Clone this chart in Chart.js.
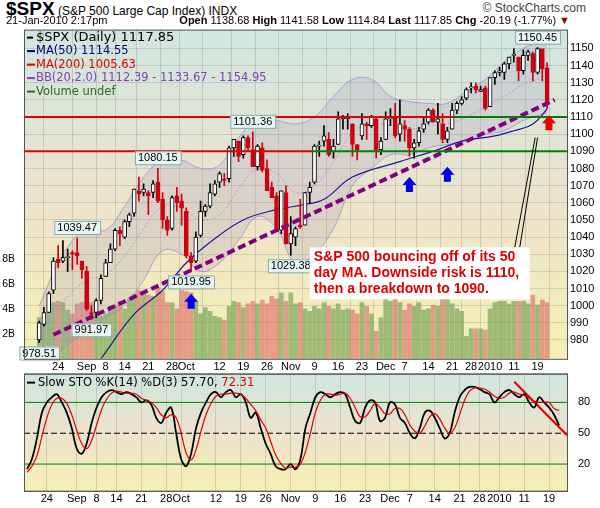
<!DOCTYPE html>
<html><head><meta charset="utf-8">
<script src="https://cdn.jsdelivr.net/npm/chart.js@4"></script>
<style>
body{margin:0;width:600px;height:508px;background:#fff;font-family:Arial,"Liberation Sans",sans-serif;position:relative;overflow:hidden}
#h1{position:absolute;left:6px;top:-2px;font-size:12px;white-space:nowrap;z-index:2}
#h1 b{font-size:19px}
#h2{position:absolute;left:6px;top:14px;font-size:11px;white-space:nowrap;z-index:2}
#h3{position:absolute;right:30px;top:14px;font-size:11px;white-space:nowrap;z-index:2}
#sc{position:absolute;right:14px;top:1px;font-size:12px;color:#444;z-index:2}
.c{position:absolute;left:0}
</style></head><body>
<div class="c" style="top:20px;width:600px;height:356px"><canvas id="m"></canvas></div>
<div class="c" style="top:364px;width:600px;height:144px"><canvas id="s"></canvas></div>
<div id="h1"><b>$SPX</b> (S&amp;P 500 Large Cap Index) INDX</div>
<div id="sc">© StockCharts.com</div>
<div id="h2">21-Jan-2010 2:17pm</div>
<div id="h3"><b>Open</b> 1138.68 <b>High</b> 1141.58 <b>Low</b> 1114.84 <b>Last</b> 1117.85 <b>Chg</b> -20.19 (-1.77%) <span style="color:#900">▼</span></div>
<script>
const xTickIdx=[4,10,14,18,23,28,31,38,43,48,53,58,63,68,73,77,82,87,91,95,100,105];
const xTickText=["24","Sep","8","14","21","28","Oct","12","19","26","Nov","9","16","23","Dec","7","14","21","28","2010","11","19"];
const opens=[980,989,996,1009,1027,1026,1028,1031,1031,1026,
1020,996,996,1003,1017,1025,1033,1044,1040,1049,1054,1067,1066,1066,1066,1072,1062,1050,1045,1064,1061,
1055,1029,1026,1041,1055,1058,1065,1072,1074,1074,1092,1096,1088,1098,1091,1081,1092,1080,1069,1064,1044,1066,
1036,1040,1047,1047,1066,1072,1093,1096,1097,1090,1094,1109,1109,1106,1094,1099,1106,1105,1109,1091,
1097,1109,1110,1100,1105,1103,1092,1095,1103,1107,1114,1107,1106,1097,1103,1114,1118,1121,1127,1128,1125,1127,
1116,1133,1136,1136,1141,1146,1145,1137,1146,1147,1136,1150,1138.68];
const highs=[991,999,1008,1028,1035,1038,1033,1032,1039.47,1026,
1023,1000,1004,1018,1027,1036,1045,1046,1050,1054,1068,1075,1071,1067,1073,1080.15,1066,1052,1064,1069,1065,
1057,1031,1043,1061,1059,1071,1073,1078,1077,1093,1097,1096,1099,1099,1101.36,1094,1095,1085,1072,1066,1067,1070,
1052,1046,1062,1066,1072,1094,1096,1105,1101,1097,1113,1111,1112,1106,1094,1112,1107,1111,1110,1098,
1113,1115,1118,1120,1108,1104,1097,1104,1110,1115,1115,1118,1112,1104,1118,1119,1122,1127,1130,1130,1128,1128,
1133,1137,1139,1142,1145,1150,1145,1149,1149,1148,1150.45,1138.5,1141.58];
const lows=[978.51,988,996,1007,1022,1025,1020,1021,1024,1016,
997,991.97,993,1001,1017,1025,1032,1035,1039,1046,1052,1061,1064,1053,1063,1060,1045,1041,1044,1055,1047,
1028,1019.95,1025,1040,1052,1057,1064,1069,1070,1072,1087,1084,1086,1090,1081,1079,1078,1075,1063,1059,1042,1036,
1029.38,1035,1045,1047,1060,1071,1087,1093,1087,1086,1094,1103,1103,1087,1085,1097,1097,1104,1086,1088,
1097,1105,1098,1096,1096,1087,1086,1093,1101,1106,1107,1100,1095,1095,1103,1112,1117,1120,1124,1124,1125,1114,
1116,1129,1134,1132,1138,1142,1131,1135,1143,1131,1135,1131,1114.84];
const closes=[990,996,1007,1026,1025,1028,1028,1030,1029,1021,
998,995,1003,1016,1025,1033,1044,1042,1049,1053,1068,1065,1068,1064,1071,1061,1050,1044,1063,1060,1057,
1029,1025,1040,1055,1058,1066,1071,1077,1073,1092,1097,1087,1098,1092,1081,1093,1079,1067,1063,1043,1067,1036,
1042,1045,1046,1066,1069,1093,1093,1099,1088,1093,1109,1110,1110,1094,1091,1106,1105,1110,1091,1096,
1109,1109,1099,1106,1103,1092,1095,1102,1106,1114,1107,1109,1097,1102,1114,1118,1120,1126,1127,1126,1126,1115,
1133,1136,1137,1141,1145,1146,1137,1146,1148,1136,1150,1138,1117.85];
const volumes=[3.3,3.0,3.8,4.5,4.6,4.5,3.9,3.6,4.4,4.5,
5.1,4.5,3.7,3.4,3.6,4.2,4.3,4.6,4.0,4.8,5.2,5.5,5.2,5.1,5.0,5.7,5.4,4.5,4.5,4.0,5.5,
5.4,5.3,4.6,3.6,4.1,3.8,3.4,3.3,3.1,4.2,4.6,4.5,4.1,4.4,4.6,4.4,4.7,4.4,5.0,4.8,5.3,4.6,
5.3,4.4,4.5,4.0,3.8,4.2,4.0,4.5,4.2,4.0,4.4,3.9,4.0,3.9,3.6,4.5,4.2,3.6,2.2,3.3,
4.9,4.6,4.9,4.5,3.9,4.4,4.2,4.5,3.9,4.0,4.3,4.2,4.8,5.9,4.4,4.0,3.8,1.8,2.4,2.4,2.4,2.3,
4.0,4.5,4.6,4.6,4.4,4.6,4.6,4.6,4.4,5.1,4.3,4.7,4.5];
const ma50=[[13,969],[20,995],[26,1009],[31,1025],[36,1037],[43,1050],[50,1056],[56,1059],[60,1062],[66,1075],[76,1084],[84,1091],[89,1096],[96,1099],[100,1102],[104,1106],[107,1114.55]];
const bbUpper=[[0,1000],[5,1030],[10,1045],[14,1044],[18,1058],[22,1075],[26,1085],[30,1085],[34,1080],[38,1082],[42,1098],[46,1108],[50,1108],[54,1106],[58,1110],[62,1122],[66,1132],[70,1132],[74,1122],[78,1119],[82,1118],[86,1118],[90,1125],[94,1132],[98,1142],[102,1150],[107,1154.95]];
const bbMid=[[0,982],[5,1002],[10,1015],[14,1018],[18,1029],[22,1045],[26,1058],[30,1057],[34,1050],[38,1053],[42,1068],[46,1080],[50,1077],[54,1066],[58,1070],[62,1084],[66,1101],[70,1106],[74,1105],[78,1103],[82,1105],[86,1106],[90,1110],[94,1116],[98,1122],[102,1129],[107,1133.67]];
const bbLower=[[0,965],[5,975],[10,985],[14,993],[18,1000],[22,1015],[26,1032],[30,1030],[34,1020],[38,1025],[42,1038],[46,1052],[50,1045],[54,1025],[58,1030],[62,1045],[66,1070],[70,1080],[74,1088],[78,1088],[82,1092],[86,1094],[90,1096],[94,1100],[98,1102],[102,1108],[107,1112.39]];
const trendLine=[[3,983],[108.6,1120]];
const stochK=[15,25,45,70,80,85,88,80,70,55,35,30,40,60,75,85,90,92,90,88,90,88,85,80,82,78,65,60,70,75,50,25,18,30,55,70,80,88,90,85,90,92,85,88,80,65,70,55,40,30,18,15,15,20,15,25,55,70,85,90,88,85,88,90,88,75,62,60,75,82,80,62,65,80,78,65,60,50,45,55,70,72,65,55,45,50,70,85,92,95,95,93,90,88,80,85,90,92,88,85,88,80,75,85,80,75,68,57.7];
const stochD=[12,18,28,47,65,78,84,84,79,68,53,40,35,43,58,73,83,89,91,90,89,89,88,84,82,80,75,68,65,68,65,50,31,24,34,52,68,79,86,88,88,89,89,88,84,78,72,63,55,42,29,21,16,17,17,20,32,50,70,82,88,88,87,88,89,84,75,66,66,72,79,75,69,69,74,74,68,58,52,50,57,66,69,64,55,50,55,68,82,91,94,94,93,90,86,84,85,89,90,88,87,84,81,80,80,80,74,72.3];
const stochTrend=[[98,100],[108.6,48]];
const priceLabels=[[0,978.51,'below'],[8,1039.47,'above'],[11,991.97,'below'],[25,1080.15,'above'],[32,1019.95,'below'],[45,1101.36,'above'],[53,1029.38,'below'],[105,1150.45,'above']];
const upArrows=[[32,1007,'#0000ee'],[78,1075,'#0000ee'],[86,1081,'#0000ee'],[107.4,1111,'#ee0000']];

const N=closes.length;
const idx=[...Array(N).keys()];
const up=idx.map(i=>closes[i]>=opens[i]);
const pts=a=>a.map(p=>({x:p[0],y:p[1]}));
const xCommon={type:'linear',min:-0.6,max:108.6,
  afterBuildTicks:s=>{s.ticks=xTickIdx.map(v=>({value:v}));},
  ticks:{callback:(v)=>xTickText[xTickIdx.indexOf(v)],font:{size:11,family:'Arial'},color:'#000',maxRotation:0,autoSkip:false,padding:2},
  grid:{color:'rgba(150,150,150,0.35)',drawTicks:false},border:{display:false}};

const bgPlugin={id:'bg',beforeDraw(c){const a=c.chartArea,ctx=c.ctx;const g=ctx.createLinearGradient(0,a.top,0,a.bottom);
 g.addColorStop(0,'#cfe6df');g.addColorStop(0.5,'#ece3cc');g.addColorStop(1,'#f6f0b4');
 ctx.save();ctx.fillStyle=g;ctx.fillRect(a.left,a.top,a.width,a.height);ctx.restore();},
 afterDraw(c){const a=c.chartArea,ctx=c.ctx;ctx.save();ctx.strokeStyle='#555';ctx.lineWidth=1;ctx.strokeRect(a.left+.5,a.top+.5,a.width,a.height);ctx.restore();}};

const annPlugin={id:'ann',afterDatasetsDraw(c){const ctx=c.ctx,xs=c.scales.x,ys=c.scales.y;ctx.save();
 const hl=(v,redTo)=>{const y=ys.getPixelForValue(v);ctx.lineWidth=2;ctx.strokeStyle='#e00000';ctx.beginPath();ctx.moveTo(c.chartArea.left,y);ctx.lineTo(xs.getPixelForValue(redTo),y);ctx.stroke();
   ctx.strokeStyle='#008000';ctx.beginPath();ctx.moveTo(xs.getPixelForValue(redTo),y);ctx.lineTo(c.chartArea.right,y);ctx.stroke();};
 hl(1110,87.5);hl(1090,57.5);
 upArrows.forEach(([i,v,col])=>{const x=xs.getPixelForValue(i),y=ys.getPixelForValue(v);ctx.fillStyle=col;ctx.beginPath();
   ctx.moveTo(x,y);ctx.lineTo(x+7,y+8);ctx.lineTo(x+3.5,y+8);ctx.lineTo(x+3.5,y+15);ctx.lineTo(x-3.5,y+15);ctx.lineTo(x-3.5,y+8);ctx.lineTo(x-7,y+8);ctx.closePath();ctx.fill();});
 ctx.font='11px Arial';ctx.textAlign='center';ctx.textBaseline='middle';
 priceLabels.forEach(([i,v,pos])=>{let x=xs.getPixelForValue(i),y=ys.getPixelForValue(v);const t=v.toFixed(2);const w=ctx.measureText(t).width+6;
   let by=pos==='above'?y-17:y+4;let bx=Math.min(Math.max(x-w/2,c.chartArea.left-20),c.chartArea.right-w);
   ctx.fillStyle='#e6f6f4';ctx.strokeStyle='#8aa';ctx.lineWidth=1;ctx.fillRect(bx,by,w,13);ctx.strokeRect(bx+.5,by+.5,w,13);
   ctx.fillStyle='#000';ctx.fillText(t,bx+w/2,by+7);});
 const bx=xs.getPixelForValue(57),by=ys.getPixelForValue(1034);
 ctx.strokeStyle='#000';ctx.lineWidth=1;ctx.beginPath();ctx.moveTo(bx+205,by);ctx.lineTo(xs.getPixelForValue(104.5),ys.getPixelForValue(1098));ctx.moveTo(bx+210,by);ctx.lineTo(xs.getPixelForValue(105),ys.getPixelForValue(1098));ctx.stroke();
 ctx.fillStyle='#fff';ctx.fillRect(bx,by,220,52);
 ctx.fillStyle='#e00000';ctx.font='bold 14px Arial';ctx.textAlign='left';ctx.textBaseline='top';
 ['S&P 500 bouncing off of its 50','day MA. Downside risk is 1110,','then a breakdown to 1090.'].forEach((l,k)=>ctx.fillText(l,bx+4,by+3+k*16));
 const a=c.chartArea;ctx.textBaseline='middle';
 const leg=[['$SPX (Daily) 1117.85','#000'],['MA(50) 1114.55','#000080'],['MA(200) 1005.63','#e00000'],['BB(20,2.0) 1112.39 - 1133.67 - 1154.95','#8040c0'],['Volume undef','#207020']];
 leg.forEach(([t,col],k)=>{const y=a.top+8+k*13.5;ctx.fillStyle=col;ctx.font=(k==0?'13px':'11.5px')+' "DejaVu Sans"';ctx.fillRect(a.left+3,y-1,k==0?6:8,2);ctx.fillText(t,a.left+12,y);});
 ctx.restore();}};

new Chart(document.getElementById('m'),{
 data:{datasets:[
  {type:'bar',yAxisID:'yv',order:20,data:idx.map(i=>({x:i,y:volumes[i]})),backgroundColor:idx.map(i=>up[i]?'rgba(110,160,80,0.65)':'rgba(220,100,100,0.6)'),barThickness:4,grouped:false},
  {type:'line',order:15,data:pts(bbUpper),borderColor:'rgba(160,130,210,0.7)',borderWidth:1,pointRadius:0,tension:0.4,fill:'+1',backgroundColor:'rgba(150,140,190,0.2)'},
  {type:'line',order:15,data:pts(bbLower),borderColor:'rgba(160,130,210,0.7)',borderWidth:1,pointRadius:0,tension:0.4,fill:false},
  {type:'line',order:14,data:pts(bbMid),borderColor:'rgba(170,140,210,0.8)',borderWidth:1,borderDash:[2,2],pointRadius:0,tension:0.4,fill:false},
  {type:'line',order:13,data:pts(ma50),borderColor:'#1a1a9a',borderWidth:1.2,pointRadius:0,tension:0.4,fill:false},
  {type:'bar',order:6,grouped:false,data:idx.map(i=>({x:i,y:[lows[i],highs[i]]})),backgroundColor:idx.map(i=>up[i]?'#000':'#d00010'),barThickness:1},
  {type:'bar',order:5,grouped:false,data:idx.map(i=>({x:i,y:[opens[i],closes[i]]})),backgroundColor:idx.map(i=>up[i]?'#fff':'#d00010'),borderColor:idx.map(i=>up[i]?'#000':'#d00010'),borderWidth:1,borderSkipped:false,barThickness:4,minBarLength:1},
  {type:'line',order:4,data:pts(trendLine),borderColor:'#800080',borderWidth:4,borderDash:[8,4],pointRadius:0,fill:false}
 ]},
 options:{responsive:true,maintainAspectRatio:false,animation:false,layout:{padding:{top:0,bottom:0}},
  plugins:{legend:{display:false},tooltip:{enabled:false}},
  scales:{x:xCommon,
   y:{position:'right',min:969,max:1161,afterBuildTicks:s=>{s.ticks=[];for(let v=980;v<=1150;v+=10)s.ticks.push({value:v});},
     afterFit:s=>{s.width=33},ticks:{callback:v=>String(v),font:{size:11,family:'Arial'},color:'#000',padding:3},grid:{color:'rgba(150,150,150,0.35)',drawTicks:false},border:{display:false}},
   yv:{position:'left',min:0,max:26.4,afterBuildTicks:s=>{s.ticks=[2,4,6,8].map(v=>({value:v}));},afterFit:s=>{s.width=24},
     ticks:{callback:v=>v+'B',font:{size:10.5,family:'Arial'},color:'#000',padding:1},grid:{display:false},border:{display:false}}}},
 plugins:[bgPlugin,annPlugin]});

const stPlugin={id:'st',beforeDatasetsDraw(c){const ctx=c.ctx,a=c.chartArea,ys=c.scales.y;ctx.save();
 [[80,'#008000',[]],[20,'#008000',[]],[50,'#000',[6,3]]].forEach(([v,col,d])=>{const y=ys.getPixelForValue(v);ctx.strokeStyle=col;ctx.lineWidth=1;ctx.setLineDash(d);ctx.beginPath();ctx.moveTo(a.left,y);ctx.lineTo(a.right,y);ctx.stroke();});
 ctx.restore();},
 afterDraw(c){const ctx=c.ctx,a=c.chartArea;ctx.save();ctx.strokeStyle='#555';ctx.strokeRect(a.left+.5,a.top+.5,a.width,a.height);
 ctx.font='11.5px "DejaVu Sans"';ctx.textBaseline='middle';ctx.fillStyle='#000';ctx.fillRect(a.left+3,a.top+8,8,2);
 ctx.fillText('Slow STO %K(14) %D(3) 57.70,',a.left+14,a.top+9);const w=ctx.measureText('Slow STO %K(14) %D(3) 57.70, ').width;ctx.fillStyle='#e00000';ctx.fillText('72.31',a.left+14+w,a.top+9);ctx.restore();}};
new Chart(document.getElementById('s'),{type:'line',
 data:{datasets:[
  {data:idx.map(i=>({x:i,y:stochD[i]})),borderColor:'#e00000',borderWidth:1.2,pointRadius:0,tension:0.4},
  {data:idx.map(i=>({x:i,y:stochK[i]})),borderColor:'#000',borderWidth:1.8,pointRadius:0,tension:0.4},
  {data:pts(stochTrend),borderColor:'#e00000',borderWidth:2,pointRadius:0}
 ]},
 options:{responsive:true,maintainAspectRatio:false,animation:false,plugins:{legend:{display:false},tooltip:{enabled:false}},
  scales:{x:xCommon,
   y:{position:'right',min:-6,max:108,afterBuildTicks:s=>{s.ticks=[20,50,80].map(v=>({value:v}));},afterFit:s=>{s.width=33},
     ticks:{font:{size:11,family:'Arial'},color:'#000',padding:3},grid:{display:false},border:{display:false}},
   yl:{position:'left',afterFit:s=>{s.width=24},ticks:{display:false},grid:{display:false},border:{display:false}}}},
 plugins:[bgPlugin,stPlugin]});
</script></body></html>
